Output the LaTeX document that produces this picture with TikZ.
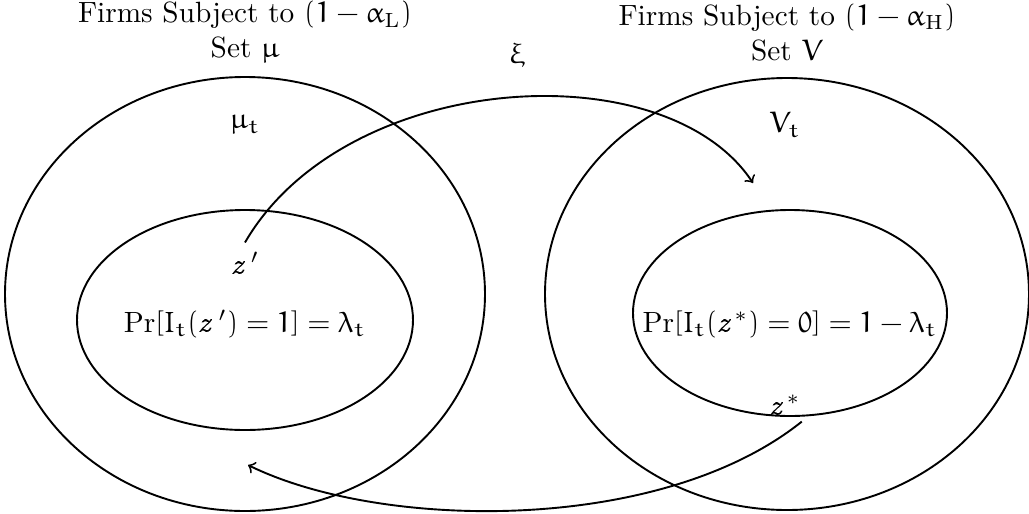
\documentclass[tikz,border=0pt]{standalone}
\renewcommand{\rmdefault}{ccr}
\usepackage{euler}
\usepackage{tikz}
\usetikzlibrary{calc,positioning}
\newcommand{\rmsub}[1]{\mbox{\scriptsize\rmfamily #1}}
\newcommand{\probop}{\mbox{\rmfamily Pr}}
\tikzset{
  setline/.style={draw=black, line width=0.65pt},
  flowarrow/.style={->, line width=0.65pt},
  setlabel/.style={align=center, inner sep=1pt},
  elemlabel/.style={inner sep=1pt},
}
\begin{document}
\begin{tikzpicture}[x=0.012cm, y=-0.012cm]
% Canvas measured in pixels of the original drawing
\useasboundingbox (0,0) rectangle (1029,514);
% Outer sets and inner subsets
\draw[setline] (245,294) ellipse [x radius=240, y radius=217];
\draw[setline] (787,294) ellipse [x radius=242, y radius=216];
\draw[setline] (245,320) ellipse [x radius=168, y radius=110];
\draw[setline] (790,313) ellipse [x radius=157, y radius=103];
% Headings above the two sets
\node[setlabel] (headL) at (245,32) {Firms Subject to $(1-\alpha_{\rmsub{L}})$\\ Set $\mu$};
\node[setlabel] (headR) at (787,32) {Firms Subject to $(1-\alpha_{\rmsub{H}})$\\ Set $V$};
% Labels inside the sets
\node[elemlabel] (mut) at (245,125) {$\mu_t$};
\node[elemlabel] (vt) at (785,125) {$V_t$};
\node[elemlabel] (zp) at (245,263) {$\mathit{z}'$};
\node[elemlabel] (prL) at (245,325) {$\probop[I_t(\mathit{z}')=1]=\lambda_t$};
\node[elemlabel] (prR) at (790,325) {$\probop[I_t(\mathit{z}^{*})=0]=1-\lambda_t$};
\node[elemlabel] (zs) at (785,405) {$\mathit{z}^{*}$};
\node[elemlabel] (xi) at (517,55) {$\xi$};
% Flows between the sets
\coordinate (xiEnd) at (753,183);
\coordinate (backEnd) at (248,465);
\draw[flowarrow] (zp.north) ++(0,-6) .. controls (345,70) and (665,50) .. (xiEnd);
\draw[flowarrow] (zs.south east) ++(-2,3) .. controls (660,535) and (380,530) .. (backEnd);
\end{tikzpicture}
\end{document}
